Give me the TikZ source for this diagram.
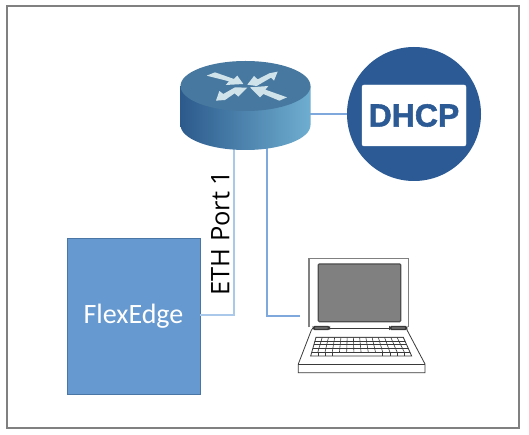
\documentclass[tikz,border=0pt]{standalone}
\usepackage{fontspec}
\setmainfont{Carlito}
\newfontfamily\dhcpfont[FakeBold=1.6]{Liberation Sans Bold}
\newfontfamily\portfont{Open Sans}
\definecolor{linkblue}{HTML}{7FA9DC}
\definecolor{linklight}{HTML}{A9C8EA}
\definecolor{boxblue}{HTML}{6699CF}
\definecolor{boxedge}{HTML}{4A76A6}
\definecolor{framegray}{HTML}{808080}
\definecolor{dhcpblue}{HTML}{2B5A94}
\definecolor{routertop}{HTML}{47789F}
\definecolor{routerdark}{HTML}{2C5A8C}
\definecolor{routerlight}{HTML}{6FAED0}
\definecolor{routerarrow}{HTML}{D0E3EA}
\definecolor{laptopline}{HTML}{3A3A3A}
\tikzset{
  link/.style={draw=linkblue,line width=1.3pt},
  linkpale/.style={draw=linklight,line width=1.8pt},
  laptopstroke/.style={draw=laptopline,line width=.8pt},
}
\begin{document}
\begin{tikzpicture}[x=1pt,y=-1pt]
\useasboundingbox (0,0) rectangle (529,435);
\fill[white] (0,0) rectangle (529,435);
\draw[framegray,line width=2pt] (7,6) rectangle (519,428);

% connectors' named ends
\coordinate (routerL) at (234,148);
\coordinate (routerR) at (267,148);
\coordinate (routerE) at (305,114);
\coordinate (laptopW) at (300,316);
\node[circle,minimum size=134pt,inner sep=0pt,fill=dhcpblue] (dhcp) at (414,114) {};
\node[rectangle,minimum width=133pt,minimum height=156pt,inner sep=0pt,fill=boxblue,draw=boxedge,line width=.8pt] (flex) at (133.5,316) {};

\draw[link] (routerE) -- (dhcp.west);
\draw[linkpale] (flex.east |- 0,315) -- (234,315) -- (routerL);
\draw[link] (routerR) -- (267,316) -- (laptopW);

% router
\shade[left color=routerdark,right color=routerlight] (180.5,86) -- (180.5,125) arc[start angle=180,end angle=360,x radius=65,y radius=-25] -- (310.5,86) -- cycle;
\fill[routertop] (245.5,86) ellipse[x radius=65,y radius=25];
\begin{scope}[shift={(160,40)},x=.3333pt,y=-.3333pt]
\fill[routerarrow] (140,107) -- (165,97) -- (222,117) -- (232,107) -- (250,132) -- (197,135) -- (207,124) -- cycle;
\fill[routerarrow] (353,95) -- (342,122) -- (333,113) -- (290,138) -- (262,134) -- (282,108) -- (293,118) -- (328,100) -- cycle;
\fill[routerarrow] (168,182) -- (178,153) -- (190,162) -- (225,142) -- (262,143) -- (235,170) -- (224,160) -- (195,180) -- cycle;
\fill[routerarrow] (381,172) -- (358,182) -- (310,162) -- (300,172) -- (270,142) -- (325,138) -- (316,149) -- cycle;
\end{scope}

% DHCP badge
\draw[white,fill=white,rounded corners=2pt] (362,85) rectangle (466,146);
\node[inner sep=0pt,text=dhcpblue,font=\dhcpfont\fontsize{32}{32}\selectfont] (dhcptext) at (414,115.5) {DHCP};

% FlexEdge
\node[text=white,font=\fontsize{28}{28}\selectfont,inner sep=0pt] (flextext) at (flex.center) {FlexEdge};
\node[rotate=90,inner sep=0pt,text=black,font=\portfont\fontsize{25.5}{25.5}\selectfont] (port) at (220.5,233) {ETH Port 1};

% laptop
\begin{scope}[shift={(280,240)},x=.3333pt,y=-.3333pt]
\draw[laptopstroke,draw=gray,line width=1.2pt] (87,262) -- (87,55) -- (385,55) -- (385,262);
\draw[fill=gray,draw=laptopline!90,line width=1.2pt,rounded corners=1pt] (115,72) rectangle (362,245);
\draw[laptopstroke,line width=1.1pt] (95,265) -- (380,265);
\draw[laptopstroke,line width=1.6pt,fill=gray,rounded corners=1.5pt] (100,260) rectangle (148,268);
\draw[laptopstroke,line width=1.6pt,fill=gray,rounded corners=1.5pt] (330,260) rectangle (380,268);
\draw[laptopstroke] (95,268) -- (55,372) -- (55,398) -- (435,398) -- (435,372) -- (380,268);
\draw[laptopstroke] (55,372) -- (435,372);
\begin{scope}
\clip (108,292) -- (370,292) -- (395,348) -- (92,348) -- cycle;
\foreach \i in {0,...,14}{
  \draw[laptopstroke,line width=.6pt] ({108+\i*18.7},292) -- ({92+\i*21.6},336);
}
\foreach \i in {0,1,2,3,10,11,12,13}{
  \draw[laptopstroke,line width=.6pt] ({92+\i*21.6},336) -- ({92+\i*21.6},348);
}
\foreach \y in {292,303,314,325,336,348}{
  \draw[laptopstroke,line width=.8pt] (90,\y) -- (400,\y);
}
\end{scope}
\draw[laptopstroke,line width=.8pt] (108,292) -- (370,292) -- (395,348) -- (92,348) -- cycle;
\end{scope}
\end{tikzpicture}
\end{document}
